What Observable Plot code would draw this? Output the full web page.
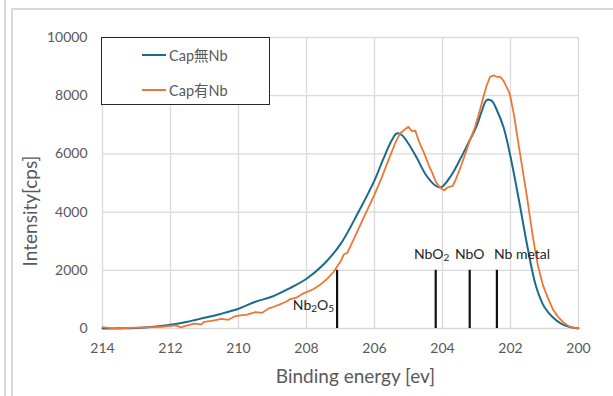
<!DOCTYPE html>
<html>
<head>
<meta charset="utf-8">
<script src="https://cdn.jsdelivr.net/npm/d3@7"></script>
<script src="https://cdn.jsdelivr.net/npm/@observablehq/plot@0.6"></script>
<style>
  html, body { margin: 0; padding: 0; background: #fff; }
  #wrap { position: relative; width: 613px; height: 396px; overflow: hidden; font-family: "Lato", "Noto Sans CJK JP", sans-serif; }
  .frame { position: absolute; background: #d9d9d9; }
  #legend { position: absolute; left: 101px; top: 37px; width: 167px; height: 66px; border: 1.5px solid #262626; background: #fff; }
  .item { position: absolute; left: 40px; display: flex; align-items: center; font-size: 14.5px; color: #595959; }
  .swatch { width: 24px; height: 2px; margin-right: 3px; }
</style>
</head>
<body>
<div id="wrap"></div>
<script>
// ---- data ----
const seriesNames = ["Cap無Nb", "Cap有Nb"];
const seriesColors = ["#1b6b8c", "#ee7635"];

const energyA = [214, 213.5, 213, 212.5, 212, 211.5, 211, 210.5, 210, 209.5, 209, 208.5, 208, 207.5, 207, 206.5, 206, 205.75, 205.5, 205.35, 205.2, 205, 204.75, 204.5, 204.25, 204.1, 204, 203.75, 203.5, 203.25, 203, 202.85, 202.7, 202.55, 202.4, 202.2, 202, 201.75, 201.5, 201.25, 201, 200.75, 200.5, 200.25, 200];
const intensityA = [0, 5, 20, 60, 125, 230, 370, 510, 680, 920, 1100, 1380, 1710, 2200, 2900, 3940, 5090, 5800, 6450, 6700, 6650, 6350, 5850, 5300, 4950, 4850, 4880, 5250, 5770, 6350, 6950, 7450, 7850, 7820, 7500, 6900, 5900, 4400, 2800, 1450, 730, 380, 160, 50, 10];

const energyB = [214, 213.75, 213.5, 213.25, 213, 212.75, 212.5, 212.25, 212, 211.85, 211.7, 211.5, 211.3, 211.1, 211, 210.75, 210.5, 210.3, 210.1, 210, 209.75, 209.5, 209.3, 209.1, 209, 208.8, 208.6, 208.5, 208.3, 208.1, 208, 207.8, 207.6, 207.4, 207.2, 207, 206.9, 206.8, 206.6, 206.4, 206.2, 206, 205.8, 205.6, 205.4, 205.25, 205.1, 205, 204.9, 204.8, 204.7, 204.55, 204.4, 204.3, 204.2, 204.1, 204, 203.95, 203.85, 203.7, 203.6, 203.45, 203.3, 203.2, 203.05, 202.9, 202.8, 202.7, 202.6, 202.5, 202.4, 202.3, 202.2, 202.05, 202, 201.9, 201.8, 201.65, 201.5, 201.35, 201.2, 201.05, 200.9, 200.75, 200.6, 200.45, 200.3, 200.15, 200];
const intensityB = [50, 10, 0, 20, 30, 40, 50, 60, 90, 110, 40, 110, 170, 140, 230, 270, 330, 300, 420, 440, 480, 560, 540, 700, 730, 820, 920, 1000, 1060, 1200, 1250, 1350, 1500, 1700, 1950, 2300, 2550, 2600, 3100, 3600, 4100, 4600, 5150, 5750, 6350, 6700, 6850, 6930, 6780, 6800, 6450, 6050, 5600, 5350, 5050, 4880, 4780, 4750, 4850, 4900, 5150, 5600, 6100, 6450, 6900, 7500, 7950, 8350, 8650, 8700, 8650, 8650, 8500, 8150, 7950, 7350, 6600, 5500, 4400, 3200, 2200, 1500, 1050, 650, 400, 220, 90, 30, 0];

const markerNames = ["Nb2O5", "NbO2", "NbO", "Nb metal"];
const markerEnergies = [207.1, 204.2, 203.2, 202.4];
const markerHeights = [2000, 2000, 2000, 2000];

const xTicks = [214, 212, 210, 208, 206, 204, 202, 200];
const yTicks = [0, 2000, 4000, 6000, 8000, 10000];
const xLabel = "Binding energy [ev]";
const yLabel = "Intensity[cps]";

// ---- build tables ----
const dataA = energyA.map((e, i) => ({e, v: intensityA[i]}));
const dataB = energyB.map((e, i) => ({e, v: intensityB[i]}));
const markers = markerNames.map((n, i) => ({name: n, e: markerEnergies[i], h: markerHeights[i]}));
const font = '"Lato", "Noto Sans CJK JP", sans-serif';

const chart = Plot.plot({
  width: 613,
  height: 396,
  marginLeft: 102,
  marginRight: 35,
  marginTop: 37,
  marginBottom: 68,
  style: {fontFamily: font, fontSize: "14px", color: "#595959", background: "transparent"},
  x: {domain: [214, 200], label: null},
  y: {domain: [0, 10000], label: null},
  marks: [
    Plot.gridX(xTicks, {stroke: "#d9d9d9", strokeOpacity: 1, strokeWidth: 1.3}),
    Plot.gridY(yTicks, {stroke: "#d9d9d9", strokeOpacity: 1, strokeWidth: 1.3}),
    Plot.axisX(xTicks, {tickSize: 0, tickPadding: 15, fontSize: 14, fill: "#595959", label: null, tickFormat: d => String(d)}),
    Plot.axisY(yTicks, {tickSize: 0, tickPadding: 15, fontSize: 14, fill: "#595959", label: null, tickFormat: d => String(d)}),
    Plot.ruleX(markers, {x: "e", y1: 0, y2: "h", stroke: "#111", strokeWidth: 2.2}),
    Plot.line(dataA, {x: "e", y: "v", stroke: seriesColors[0], strokeWidth: 2, curve: "catmull-rom"}),
    Plot.line(dataB, {x: "e", y: "v", stroke: seriesColors[1], strokeWidth: 1.8}),
    Plot.text(markers.filter(d => d.name === "Nb2O5"), {x: "e", y: "h", text: "name", textAnchor: "end", dx: -3, dy: 35, fontSize: 14, fill: "#262626"}),
    Plot.text(markers.filter(d => d.name === "NbO2"), {x: "e", y: "h", text: "name", dx: -4, dy: -16, fontSize: 14, fill: "#262626"}),
    Plot.text(markers.filter(d => d.name === "NbO"), {x: "e", y: "h", text: "name", dx: 0, dy: -16, fontSize: 14, fill: "#262626"}),
    Plot.text(markers.filter(d => d.name === "Nb metal"), {x: "e", y: "h", text: "name", textAnchor: "start", dx: -3, dy: -16, fontSize: 14, fill: "#262626"}),
    Plot.text([xLabel], {frameAnchor: "bottom", dx: 15, dy: 54, fontSize: 19, fill: "#595959"}),
    Plot.text([yLabel], {frameAnchor: "left", textAnchor: "middle", rotate: -90, dx: -72, dy: 28, fontSize: 19, fill: "#595959"})
  ]
});

// subscripts for chemical formulas
d3.select(chart).selectAll("text").each(function() {
  const t = this.textContent;
  if (t === "Nb2O5" || t === "NbO2") {
    const sel = d3.select(this);
    sel.text(null);
    const parts = t.split(/(\d)/).filter(s => s.length);
    parts.forEach(p => {
      const ts = sel.append("tspan").text(p);
      if (/\d/.test(p)) ts.attr("baseline-shift", "-20%").attr("font-size", "10");
    });
  }
});

const wrap = document.getElementById("wrap");
// outer chart-area frames
[[4, 0, 1.5, 396], [11, 8, 1.5, 388], [11, 8, 602, 1.5]].forEach(([l, t, w, h]) => {
  const f = document.createElement("div");
  f.className = "frame";
  f.style.left = l + "px"; f.style.top = t + "px"; f.style.width = w + "px"; f.style.height = h + "px";
  wrap.appendChild(f);
});
chart.style.position = "absolute";
chart.style.left = "0px";
chart.style.top = "0px";
wrap.appendChild(chart);

// legend
const legend = document.createElement("div");
legend.id = "legend";
seriesNames.forEach((name, i) => {
  const item = document.createElement("div");
  item.className = "item";
  item.style.top = (i === 0 ? 6 : 41) + "px";
  const sw = document.createElement("span");
  sw.className = "swatch";
  sw.style.background = seriesColors[i];
  const lab = document.createElement("span");
  lab.textContent = name;
  item.appendChild(sw);
  item.appendChild(lab);
  legend.appendChild(item);
});
wrap.appendChild(legend);
</script>
</body>
</html>
